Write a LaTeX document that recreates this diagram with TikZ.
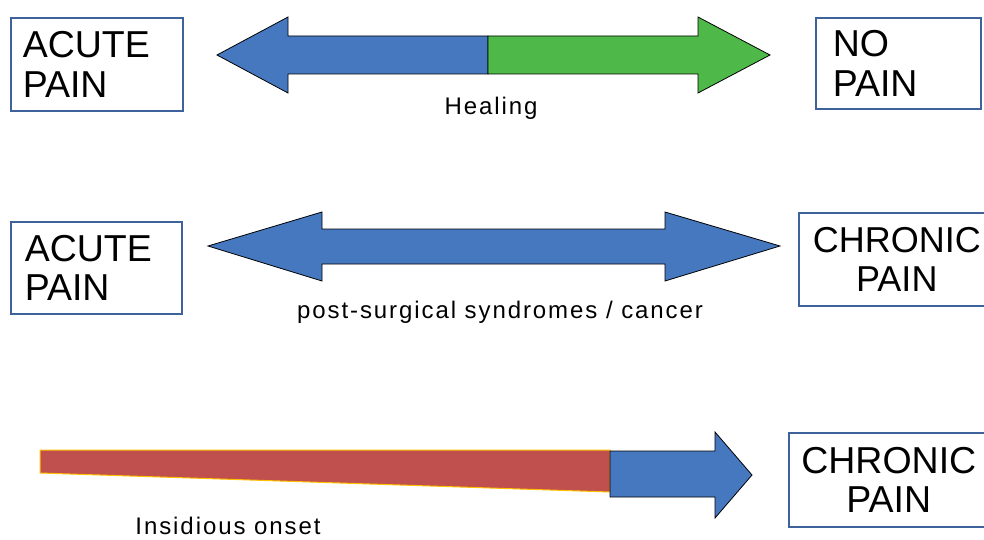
\documentclass[tikz,border=0pt]{standalone}
\usepackage{fontspec}
\setmainfont{Liberation Sans}
\definecolor{arrowblue}{RGB}{70,120,192}
\definecolor{arrowgreen}{RGB}{78,184,72}
\definecolor{onsetred}{RGB}{192,80,77}
\definecolor{onsetedge}{RGB}{255,192,0}
\definecolor{boxblue}{RGB}{62,98,156}

\begin{document}
\begin{tikzpicture}[x=1pt,y=-1pt,
		painbox/.style={draw=boxblue,line width=1.6pt,anchor=north west,
			font=\fontsize{37.5}{39.5}\selectfont},
		caption/.style={anchor=base,inner sep=0pt,
			font=\fontsize{24}{26}\selectfont\addfontfeatures{LetterSpace=8}},
		blockarrow/.style={draw=black,line width=0.8pt,line join=miter}]
		
		\useasboundingbox (0,0) rectangle (984,540);
		\clip (0,0) rectangle (984,540);
		
		% first row
		\node[painbox,inner xsep=12pt,text width=148pt,minimum height=93pt,align=left] (acute1) at (10,17) {ACUTE\\PAIN};
		\node[painbox,inner xsep=17pt,text width=131pt,minimum height=91pt,align=left] (nopain) at (815,17) {NO\\PAIN};
		\fill[arrowblue,blockarrow] (488,36) -- (288,36) -- (288,17) -- (217,55) -- (288,93) -- (288,74) -- (488,74) -- cycle;
		\fill[arrowgreen,blockarrow] (488,36) -- (698,36) -- (698,17) -- (770,55) -- (698,93) -- (698,74) -- (488,74) -- cycle;
		\node[caption] (healing) at (491,115) {Healing};
		
		% second row
		\node[painbox,inner xsep=14pt,text width=143pt,minimum height=92pt,align=left] (acute2) at (10,221) {ACUTE\\PAIN};
		\node[painbox,inner xsep=6pt,text width=184pt,minimum height=93pt,align=center,
			font=\fontsize{36}{38.5}\selectfont] (chronic1) at (798,212) {CHRONIC\\PAIN};
		\fill[arrowblue,blockarrow] (322,229) -- (665,229) -- (665,212) -- (780,246) -- (665,281) -- (665,264)
			-- (322,264) -- (322,281) -- (208,246) -- (322,212) -- cycle;
		\node[caption] (postsurg) at (500,318) {post-surgical syndromes / cancer};
		
		% third row
		\node[painbox,inner xsep=10pt,text width=180pt,minimum height=94pt,align=center] (chronic2) at (788,432) {CHRONIC\\PAIN};
		\fill[onsetred,draw=onsetedge,line width=1pt] (40,450) -- (610,450) -- (610,492) -- (40,473) -- cycle;
		\fill[arrowblue,blockarrow] (610,451) -- (715,451) -- (715,432) -- (752,475) -- (715,518) -- (715,497) -- (610,497) -- cycle;
		\node[caption] (insidious) at (228,534) {Insidious onset};
		
\end{tikzpicture}
\end{document}
